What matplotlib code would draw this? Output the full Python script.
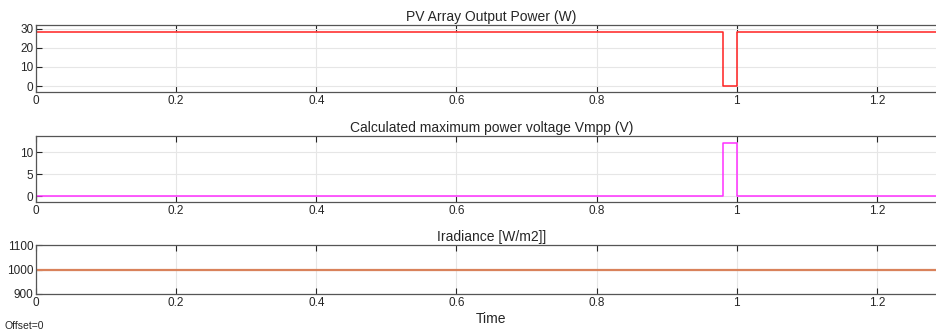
import numpy as np
import matplotlib.pyplot as plt

#========== datos ==========
t_pv = [0, 0.98, 1.0, 1.3]
p_pv = [28.3, 0, 28.3, 28.3]

t_vmpp = [0, 0.98, 1.0, 1.3]
v_mpp = [0, 12.0, 0, 0]

t_irr = [0, 1.3]
irr = [1000, 1000]

xticks = [0, 0.2, 0.4, 0.6, 0.8, 1.0, 1.2]
xlabels = ['0', '0.2', '0.4', '0.6', '0.8', '1', '1.2']

titles = ['PV Array Output Power (W)',
          'Calculated maximum power voltage Vmpp (V)',
          'Iradiance [W/m2]]']

plt.rcParams['font.family'] = ['Liberation Sans', 'DejaVu Sans']

fig = plt.figure(figsize=(9.37, 3.31), dpi=100)
W, H = 937.0, 331.0
left = 36 / W
width = 911 / W

def panel(top, bottom):
    return fig.add_axes([left, 1 - bottom / H, width, (bottom - top) / H])

ax1 = panel(25, 92)
ax2 = panel(136, 202)
ax3 = panel(245, 294)

ax1.plot(t_pv, p_pv, drawstyle='steps-post', color='#ff2020', lw=1.1)
ax1.set_ylim(-3.1, 31.9)
ax1.set_yticks([0, 10, 20, 30])

ax2.plot(t_vmpp, v_mpp, drawstyle='steps-post', color='#ff30ff', lw=1.1)
ax2.set_ylim(-1.3, 13.7)
ax2.set_yticks([0, 5, 10])

ax3.plot(t_irr, irr, color='#d9825b', lw=1.6)
ax3.set_ylim(900, 1100)
ax3.set_yticks([900, 1000, 1100])

for ax, ttl in zip([ax1, ax2, ax3], titles):
    ax.set_xlim(0, 1.3)
    ax.set_xticks(xticks)
    ax.set_xticklabels(xlabels)
    ax.set_title(ttl, fontsize=10, pad=3, color='#262626')
    ax.grid(True, color='#e6e6e6', lw=0.8)
    ax.set_axisbelow(True)
    ax.tick_params(direction='in', top=True, right=True, length=4,
                   width=0.8, colors='#262626', labelsize=8.5, pad=2)
    for s in ax.spines.values():
        s.set_color('#555555')
        s.set_linewidth(0.9)

ax3.set_xlabel('Time', fontsize=10, labelpad=2, color='#262626')
fig.text(5 / W, 1 - 326 / H, 'Offset=0', fontsize=7.5, color='#262626', va='center')

plt.savefig('out.png', dpi=100)
